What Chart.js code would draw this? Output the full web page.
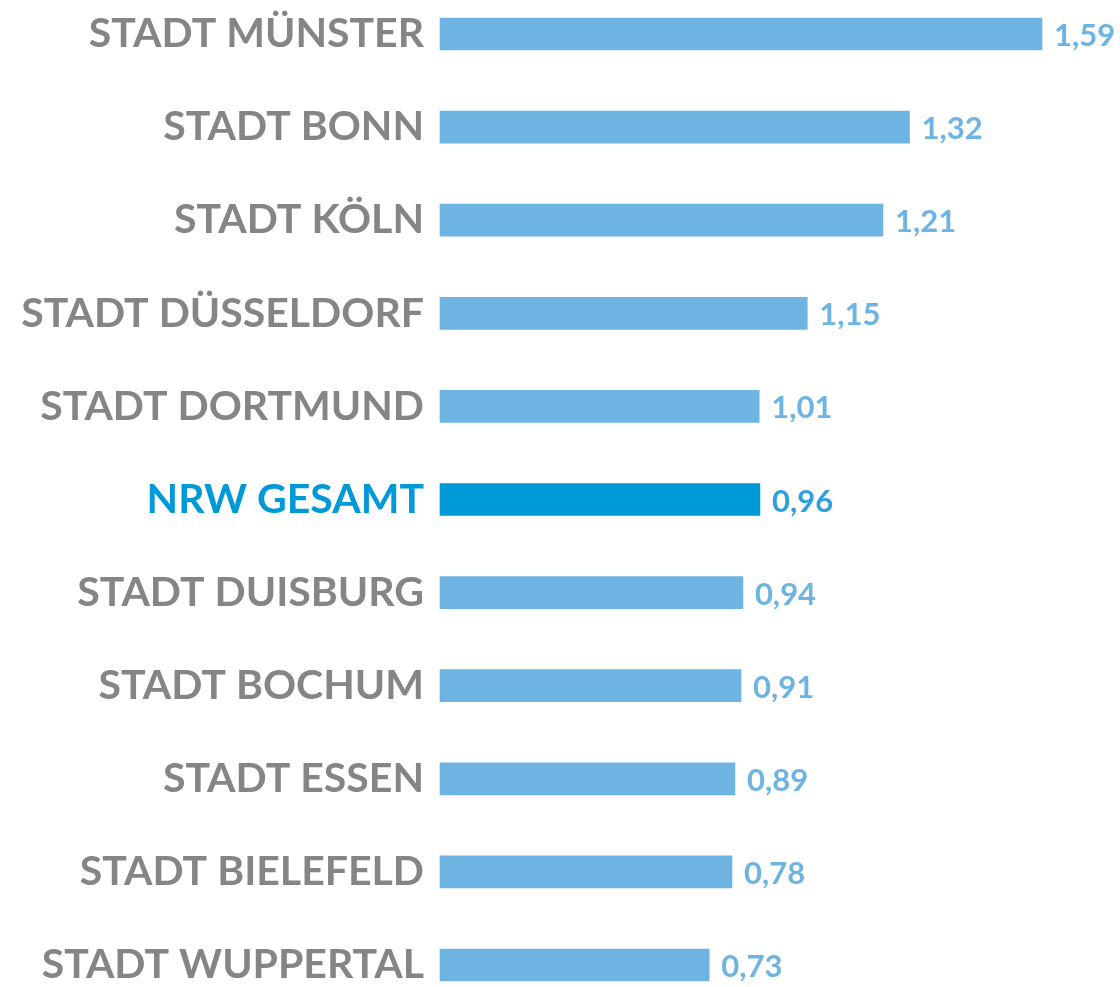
<!DOCTYPE html>
<html>
<head>
<meta charset="utf-8">
<script src="https://cdn.jsdelivr.net/npm/chart.js@4"></script>
<style>
  html, body { margin: 0; padding: 0; background: #fff; }
  #wrap { width: 1120px; height: 987px; position: relative; }
</style>
</head>
<body>
<div id="wrap"><canvas id="chart"></canvas></div>
<script>
  'use strict';

  // Categories top to bottom
  const cities = [
    'STADT MÜNSTER', 'STADT BONN', 'STADT KÖLN', 'STADT DÜSSELDORF', 'STADT DORTMUND',
    'NRW GESAMT', 'STADT DUISBURG', 'STADT BOCHUM', 'STADT ESSEN', 'STADT BIELEFELD', 'STADT WUPPERTAL'
  ];

  // Values printed next to the bars
  const shownValues = [1.59, 1.32, 1.21, 1.15, 1.01, 0.96, 0.94, 0.91, 0.89, 0.78, 0.73];

  // Bar lengths as drawn in the source graphic (it is not to scale with the printed values)
  const barLengths = [1.59, 1.24, 1.17, 0.97, 0.843, 0.845, 0.80, 0.795, 0.779, 0.771, 0.711];

  const highlight = 'NRW GESAMT';

  const colors = {
    bar: '#6db4e2',
    barHighlight: '#0099d8',
    label: '#858585',
    labelHighlight: '#0099d8',
    value: '#6db4e2',
    valueHighlight: '#2fa0dc'
  };

  const FONT = 'Lato, "Open Sans", "DejaVu Sans", sans-serif';

  const isHi = (i) => cities[i] === highlight;

  // draws "1,59" etc. right of each bar
  const valueLabelPlugin = {
    id: 'valueLabels',
    afterDatasetsDraw(chart) {
      const { ctx } = chart;
      const meta = chart.getDatasetMeta(0);
      ctx.save();
      ctx.font = 'bold 31px ' + FONT;
      ctx.textAlign = 'left';
      ctx.textBaseline = 'middle';
      meta.data.forEach((bar, i) => {
        ctx.fillStyle = isHi(i) ? colors.valueHighlight : colors.value;
        const txt = shownValues[i].toFixed(2).replace('.', ',');
        ctx.fillText(txt, bar.x + 12, bar.y + 2);
      });
      ctx.restore();
    }
  };

  new Chart(document.getElementById('chart'), {
    type: 'bar',
    data: {
      labels: cities,
      datasets: [{
        data: barLengths,
        backgroundColor: cities.map((c, i) => isHi(i) ? colors.barHighlight : colors.bar),
        borderWidth: 0,
        barThickness: 32,
        clip: false
      }]
    },
    options: {
      indexAxis: 'y',
      responsive: true,
      maintainAspectRatio: false,
      animation: false,
      layout: { padding: { top: 34, bottom: 22, left: 0, right: 78 } },
      plugins: {
        legend: { display: false },
        tooltip: { enabled: false }
      },
      scales: {
        x: {
          display: false,
          min: 0,
          max: 1.59
        },
        y: {
          offset: false,
          grid: { display: false, drawTicks: false },
          border: { display: false },
          afterFit(scale) {
            // fixed label column, no extra room for the first/last label
            scale.width = 440;
            scale.paddingTop = 0;
            scale.paddingBottom = 0;
          },
          ticks: {
            autoSkip: false,
            padding: 16,
            font: { family: FONT, size: 41, weight: 'bold' },
            color: (c) => isHi(c.index) ? colors.labelHighlight : colors.label
          }
        }
      }
    },
    plugins: [valueLabelPlugin]
  });
</script>
</body>
</html>
